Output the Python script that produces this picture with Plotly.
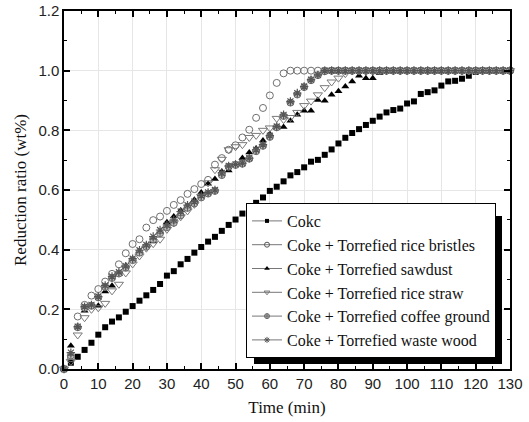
import plotly.graph_objects as go

time_min = [0, 2, 4, 6, 8, 10, 12, 14, 16, 18, 20, 22, 24, 26, 28, 30, 32, 34, 36, 38,
            40, 42, 44, 46, 48, 50, 52, 54, 56, 58, 60, 62, 64, 66, 68, 70, 72, 74, 76, 78,
            80, 82, 84, 86, 88, 90, 92, 94, 96, 98, 100, 102, 104, 106, 108, 110, 112, 114,
            116, 118, 120, 122, 124, 126, 128, 130]

coke = [0, 0.021, 0.041, 0.064, 0.088, 0.115, 0.14, 0.159, 0.173, 0.192,
        0.211, 0.229, 0.247, 0.265, 0.285, 0.313, 0.328, 0.351, 0.369, 0.39,
        0.409, 0.427, 0.443, 0.463, 0.483, 0.501, 0.521, 0.528, 0.557, 0.575,
        0.597, 0.611, 0.629, 0.649, 0.66, 0.676, 0.695, 0.701, 0.718, 0.736,
        0.756, 0.775, 0.791, 0.804, 0.818, 0.832, 0.846, 0.86, 0.868, 0.873,
        0.89, 0.897, 0.922, 0.928, 0.934, 0.95, 0.964, 0.966, 0.973, 0.983,
        0.996, 1.0, 1.0, 1.0, 1.0, 1.0]

rice_bristles = [0, 0.036, 0.176, 0.215, 0.246, 0.268, 0.293, 0.319, 0.351, 0.388,
                 0.419, 0.435, 0.474, 0.499, 0.511, 0.53, 0.55, 0.566, 0.587, 0.603,
                 0.62, 0.634, 0.685, 0.707, 0.735, 0.75, 0.776, 0.802, 0.842, 0.875,
                 0.917, 0.959, 0.991, 1.0, 1.0, 1.0, 1.0, 1.0, 1.0, 1.0,
                 1.0, 1.0, 1.0, 1.0, 1.0, 1.0, 1.0, 1.0, 1.0, 1.0,
                 1.0, 1.0, 1.0, 1.0, 1.0, 1.0, 1.0, 1.0, 1.0, 1.0,
                 1.0, 1.0, 1.0, 1.0, 1.0, 1.0]

sawdust = [0, 0.078, 0.142, 0.195, 0.215, 0.212, 0.26, 0.279, 0.318, 0.346,
           0.369, 0.396, 0.415, 0.427, 0.459, 0.492, 0.511, 0.531, 0.548, 0.567,
           0.592, 0.621, 0.637, 0.662, 0.665, 0.688, 0.707, 0.726, 0.739, 0.766,
           0.788, 0.809, 0.811, 0.832, 0.852, 0.866, 0.866, 0.902, 0.899, 0.919,
           0.931, 0.947, 0.964, 0.983, 0.975, 0.975, 0.992, 1.0, 1.0, 1.0,
           1.0, 1.0, 1.0, 1.0, 1.0, 1.0, 1.0, 1.0, 1.0, 1.0,
           1.0, 1.0, 1.0, 1.0, 1.0, 1.0]

rice_straw = [0, 0.025, 0.114, 0.172, 0.2, 0.205, 0.22, 0.262, 0.284, 0.322,
              0.352, 0.379, 0.405, 0.42, 0.435, 0.468, 0.49, 0.51, 0.53, 0.552,
              0.578, 0.624, 0.668, 0.703, 0.735, 0.745, 0.752, 0.776, 0.783, 0.8,
              0.808, 0.84, 0.836, 0.843, 0.86, 0.883, 0.898, 0.919, 0.943, 0.962,
              0.975, 0.99, 1.0, 1.0, 1.0, 1.0, 1.0, 1.0, 1.0, 1.0,
              1.0, 1.0, 1.0, 1.0, 1.0, 1.0, 1.0, 1.0, 1.0, 1.0,
              1.0, 1.0, 1.0, 1.0, 1.0, 1.0]

coffee_ground = [0, 0.045, 0.14, 0.205, 0.212, 0.24, 0.275, 0.305, 0.32, 0.34,
                 0.365, 0.39, 0.41, 0.435, 0.455, 0.475, 0.49, 0.515, 0.54, 0.555,
                 0.575, 0.588, 0.597, 0.65, 0.678, 0.684, 0.688, 0.705, 0.73, 0.748,
                 0.778, 0.81, 0.848, 0.893, 0.92, 0.945, 0.968, 0.985, 0.998, 1.0,
                 1.0, 1.0, 1.0, 1.0, 1.0, 1.0, 1.0, 1.0, 1.0, 1.0,
                 1.0, 1.0, 1.0, 1.0, 1.0, 1.0, 1.0, 1.0, 1.0, 1.0,
                 1.0, 1.0, 1.0, 1.0, 1.0, 1.0]

waste_wood = [0, 0.055, 0.142, 0.209, 0.215, 0.243, 0.28, 0.31, 0.325, 0.345,
              0.37, 0.398, 0.416, 0.444, 0.466, 0.483, 0.5, 0.528, 0.549, 0.561,
              0.581, 0.592, 0.6, 0.657, 0.681, 0.686, 0.69, 0.707, 0.735, 0.752,
              0.782, 0.813, 0.852, 0.897, 0.925, 0.947, 0.97, 0.986, 1.0, 1.0,
              1.0, 1.0, 1.0, 1.0, 1.0, 1.0, 1.0, 1.0, 1.0, 1.0,
              1.0, 1.0, 1.0, 1.0, 1.0, 1.0, 1.0, 1.0, 1.0, 1.0,
              1.0, 1.0, 1.0, 1.0, 1.0, 1.0]

series_names = ["Cokc", "Coke + Torrefied rice bristles", "Coke + Torrefied sawdust",
                "Coke + Torrefied rice straw", "Coke + Torrefied coffee ground",
                "Coke + Torrefied waste wood"]
series_values = [coke, rice_bristles, sawdust, rice_straw, coffee_ground, waste_wood]

styles = [
    dict(symbol="square", size=6, color="#000000", line=dict(width=0)),
    dict(symbol="circle-open", size=7, color="#6e6e6e", line=dict(width=1, color="#6e6e6e")),
    dict(symbol="triangle-up", size=7, color="#000000", line=dict(width=0)),
    dict(symbol="triangle-down-open", size=8, color="#7a7a7a", line=dict(width=1, color="#7a7a7a")),
    dict(symbol="circle-cross", size=7, color="#bdbdbd", line=dict(width=1, color="#6a6a6a")),
    dict(symbol="asterisk-open", size=7, color="#555555", line=dict(width=1.2, color="#555555")),
]
legend_styles = [
    dict(symbol="square", size=4, color="#000000", line=dict(width=0)),
    dict(symbol="circle-open", size=5, color="#555555", line=dict(width=1, color="#555555")),
    dict(symbol="triangle-up", size=5, color="#000000", line=dict(width=0)),
    dict(symbol="triangle-down-open", size=5, color="#777777", line=dict(width=1, color="#777777")),
    dict(symbol="circle-cross", size=5, color="#bdbdbd", line=dict(width=1, color="#6a6a6a")),
    dict(symbol="asterisk-open", size=5, color="#555555", line=dict(width=1, color="#555555")),
]

fig = go.Figure()
for name, vals, st in zip(series_names, series_values, styles):
    fig.add_trace(go.Scatter(x=time_min, y=vals, mode="markers", marker=st,
                             showlegend=False, cliponaxis=False, name=name))
for name, st in zip(series_names, legend_styles):
    fig.add_trace(go.Scatter(x=[None], y=[None], mode="lines+markers", name=name,
                             marker=st, line=dict(color="#777777", width=1)))

L, R, T, B = 64, 510, 11, 369
def px_x(p):
    return (p - L) / (R - L)
def px_y(p):
    return (B - p) / (B - T)

# drop shadow behind the legend box
fig.add_shape(type="rect", xref="paper", yref="paper",
              x0=px_x(254), x1=px_x(502), y0=px_y(364), y1=px_y(216),
              fillcolor="black", line=dict(width=0), layer="above")

axis_common = dict(
    showline=True, linecolor="black", linewidth=1.5, mirror="ticks",
    ticks="inside", ticklen=6, tickwidth=1.5, tickcolor="black",
    showgrid=True, gridcolor="#e6e6e6", gridwidth=1, zeroline=False,
    automargin=False,
    tickfont=dict(family="Liberation Sans, Arial", size=15, color="#222222"),
)

fig.update_layout(
    width=529, height=422,
    margin=dict(l=64, r=19, t=11, b=53),
    paper_bgcolor="white", plot_bgcolor="white",
    xaxis=dict(range=[0, 130], tick0=0, dtick=10,
               minor=dict(ticks="inside", dtick=5, ticklen=3, tickwidth=1.2, tickcolor="black", showgrid=False),
               title=dict(text="Time (min)", font=dict(family="Liberation Serif, Times New Roman", size=17, color="#111111"),
                          standoff=10),
               **axis_common),
    yaxis=dict(range=[0, 1.2], tick0=0, dtick=0.2, tickformat=".1f",
               minor=dict(ticks="inside", dtick=0.1, ticklen=3, tickwidth=1.2, tickcolor="black", showgrid=False),
               title=dict(text="Reduction ratio (wt%)", font=dict(family="Liberation Serif, Times New Roman", size=17, color="#111111"),
                          standoff=7),
               **axis_common),
    legend=dict(x=px_x(496), xanchor="right", y=px_y(358), yanchor="bottom",
                bgcolor="white", bordercolor="black", borderwidth=1,
                font=dict(family="Liberation Serif, Times New Roman", size=16, color="#111111"),
                tracegroupgap=0, itemwidth=30),
)

fig.write_html("out.html")
